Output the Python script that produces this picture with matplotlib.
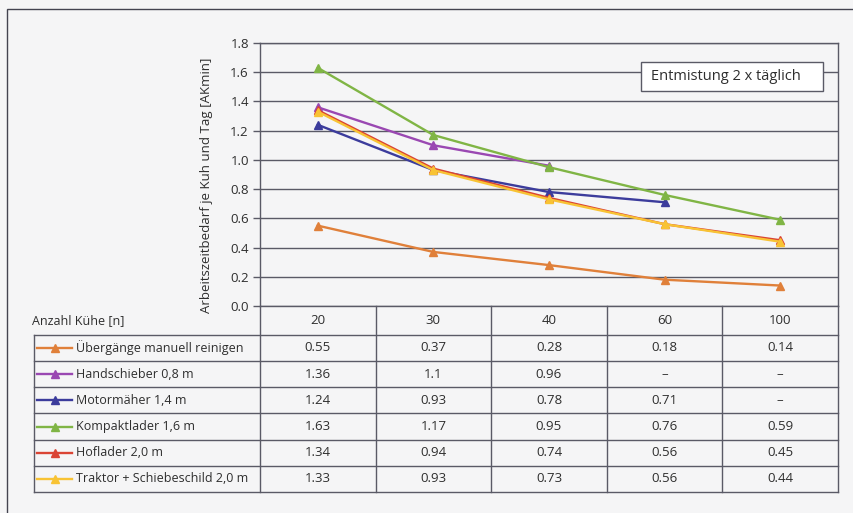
import numpy as np
import matplotlib
matplotlib.use("Agg")
import matplotlib.pyplot as plt
from matplotlib.patches import Rectangle

plt.rcParams['font.family'] = ['Open Sans', 'DejaVu Sans']

herd_sizes = ['20', '30', '40', '60', '100']
series_names = ['Übergänge manuell reinigen', 'Handschieber 0,8 m', 'Motormäher 1,4 m',
                'Kompaktlader 1,6 m', 'Hoflader 2,0 m', 'Traktor + Schiebeschild 2,0 m']
uebergaenge = [0.55, 0.37, 0.28, 0.18, 0.14]
handschieber = [1.36, 1.1, 0.96, None, None]
motormaeher = [1.24, 0.93, 0.78, 0.71, None]
kompaktlader = [1.63, 1.17, 0.95, 0.76, 0.59]
hoflader = [1.34, 0.94, 0.74, 0.56, 0.45]
traktor = [1.33, 0.93, 0.73, 0.56, 0.44]
series_values = [uebergaenge, handschieber, motormaeher, kompaktlader, hoflader, traktor]
colors = ['#e0803a', '#9a48b2', '#3c3c9c', '#80b545', '#da4434', '#f8c334']
y_ticks = [0.0, 0.2, 0.4, 0.6, 0.8, 1.0, 1.2, 1.4, 1.6, 1.8]

W, H = 854, 513
bg = '#f5f5f6'
grid_c = '#5a5a66'
txt_c = '#2e2e2e'
fig = plt.figure(figsize=(W / 100, H / 100), dpi=100, facecolor=bg)


def px_axes(x0, y0, x1, y1):
    return fig.add_axes([x0 / W, 1 - y1 / H, (x1 - x0) / W, (y1 - y0) / H])


# outer frame
fig.add_artist(Rectangle((7 / W, -0.1), 1.2, 1 - 9 / H + 0.1, transform=fig.transFigure,
                         fill=False, edgecolor='#444450', lw=1.0))

# line chart
ax = px_axes(260, 43, 838, 306)
ax.set_facecolor('none')
x = np.arange(len(herd_sizes))
for vals, col in zip(series_values, colors):
    y = np.array([np.nan if v is None else v for v in vals], dtype=float)
    ax.plot(x, y, color=col, lw=1.7, marker='^', ms=6, zorder=3)
ax.set_xlim(-0.5, len(herd_sizes) - 0.5)
ax.set_ylim(0, 1.8)
ax.set_yticks(y_ticks)
ax.set_yticklabels([f'{t:.1f}' for t in y_ticks], fontsize=9.5, color=txt_c)
ax.set_xticks([])
ax.yaxis.grid(True, color=grid_c, lw=1.0)
ax.set_axisbelow(True)
ax.tick_params(axis='y', length=5, width=1.0, color=grid_c, pad=3)
for s in ax.spines.values():
    s.set_color(grid_c)
    s.set_linewidth(1.0)

# caption box in the upper right
ax.add_patch(Rectangle((0.659, 0.817), 0.315, 0.111, transform=ax.transAxes,
                       facecolor='white', edgecolor=grid_c, lw=1.0, zorder=4))
ax.text(0.676, 0.873, 'Entmistung 2 x täglich', transform=ax.transAxes, ha='left', va='center',
        fontsize=10.5, color=txt_c, zorder=5)
fig.text(207 / W, 1 - 185 / H, 'Arbeitszeitbedarf je Kuh und Tag [AKmin]', rotation=90,
         ha='center', va='center', fontsize=9.5, color=txt_c)

# data table below the chart
tx = px_axes(34, 306, 838, 492)
tx.set_facecolor('none')
label_w = 226 / 115.6
head_h = 1.1
n_rows = len(series_names)
tx.set_xlim(-0.5 - label_w, len(herd_sizes) - 0.5)
tx.set_ylim(head_h + n_rows, 0)
tx.axis('off')
left = -0.5 - label_w
right = len(herd_sizes) - 0.5
kw = dict(color=grid_c, lw=1.0, clip_on=False)
for i in range(n_rows + 1):
    tx.plot([left, right], [head_h + i, head_h + i], **kw)
tx.plot([left, left], [head_h, head_h + n_rows], **kw)
for j in range(len(herd_sizes) + 1):
    tx.plot([j - 0.5, j - 0.5], [0, head_h + n_rows], **kw)

fig.text(32 / W, 1 - 321 / H, 'Anzahl Kühe [n]', ha='left', va='center', fontsize=9, color=txt_c)
for j, h in enumerate(herd_sizes):
    tx.text(j, head_h / 2, h, ha='center', va='center', fontsize=9.5, color=txt_c)

for i, (name, vals, col) in enumerate(zip(series_names, series_values, colors)):
    yc = head_h + i + 0.5
    tx.plot([left + 0.03, left + 0.33], [yc, yc], color=col, lw=1.7, clip_on=False)
    tx.plot([left + 0.18], [yc], color=col, marker='^', ms=6, clip_on=False)
    tx.text(left + 0.36, yc, name, ha='left', va='center', fontsize=9, color=txt_c)
    for j, v in enumerate(vals):
        s = '–' if v is None else f'{v:g}'
        tx.text(j, yc, s, ha='center', va='center', fontsize=9.5, color=txt_c)

fig.savefig('out.png', dpi=100, facecolor=bg)
